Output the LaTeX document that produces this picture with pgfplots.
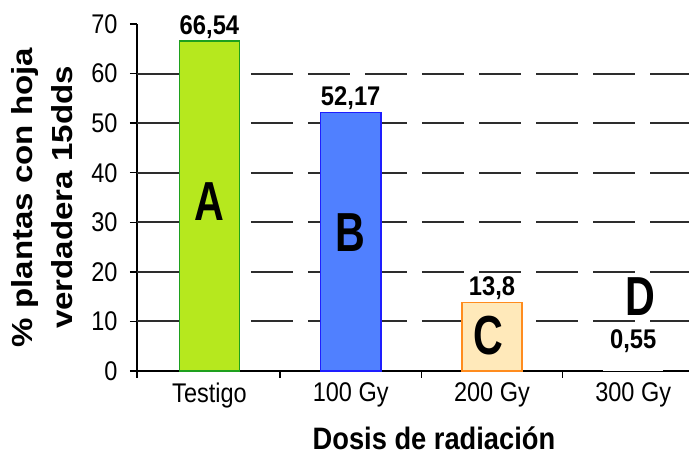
\documentclass[border=0pt]{standalone}
\usepackage{fontspec}
\setmainfont{Liberation Sans}
\newfontfamily\tickfont[FakeStretch=0.87]{Liberation Sans}
\newfontfamily\labfont[FakeStretch=0.88]{Liberation Sans}
\newfontfamily\ylabfont[FakeStretch=1.14]{Liberation Sans}
\newfontfamily\letfont[FakeStretch=0.75]{Liberation Sans}
\usepackage{pgfplots}
\pgfplotsset{compat=1.18}

\definecolor{limefill}{RGB}{182,232,30}
\definecolor{limeedge}{RGB}{30,160,30}
\definecolor{bluefill}{RGB}{80,128,255}
\definecolor{blueedge}{RGB}{30,30,255}
\definecolor{peachfill}{RGB}{255,233,186}
\definecolor{peachedge}{RGB}{255,140,30}
\definecolor{gridgray}{RGB}{45,45,45}

\begin{document}
\begin{tikzpicture}
\begin{axis}[
  name=ax,
  scale only axis,
  width=552pt, height=347pt,
  xmin=-0.513, xmax=3.395,
  ymin=0, ymax=70,
  clip=false,
  axis lines*=left,
  axis line style={line width=1.4pt, black},
  tick style={line width=1.4pt, black},
  tick align=outside,
  major tick length=7pt,
  ytick={0,10,...,70},
  xtick={-0.513,0.5,1.5,2.5},
  xticklabels={},
  extra x ticks={0,1,2,3},
  extra x tick labels={Testigo,100 Gy,200 Gy,300 Gy},
  extra x tick style={major tick length=0pt},
  extra y ticks={10,20,...,60},
  extra y tick labels={},
  extra y tick style={grid=major, major tick length=0pt},
  major grid style={dash pattern=on 42pt off 15pt, line width=2pt, gridgray},
  /pgf/number format/assume math mode=true,
  yticklabel style={font=\tickfont\fontsize{27}{27}\selectfont, xshift=-9pt},
  xticklabel style={font=\tickfont\fontsize{27}{27}\selectfont, yshift=-8pt},
  xlabel={Dosis de radiación},
  xlabel style={font=\labfont\bfseries\fontsize{31}{31}\selectfont,
    at={(rel axis cs:0.538,0)}, anchor=base, yshift=-79pt},
  ylabel={\% plantas con hoja\\verdadera 15dds},
  ylabel style={font=\ylabfont\bfseries\fontsize{29}{40}\selectfont,
    align=center, at={(rel axis cs:-0.172,0.5)}, anchor=center},
  bar width=0.427,
  point meta=explicit symbolic,
  nodes near coords,
  every node near coord/.append style={font=\labfont\bfseries\fontsize{27}{27}\selectfont, inner sep=2pt},
]
\addplot[ybar, bar shift=0pt, fill=limefill, draw=limeedge, line width=1.5pt]
  coordinates {(0,66.54) [66,54]};
\addplot[ybar, bar shift=0pt, fill=bluefill, draw=blueedge, line width=1.5pt]
  coordinates {(1,52.17) [52,17]};
\addplot[ybar, bar shift=0pt, fill=peachfill, draw=peachedge, line width=1.5pt]
  coordinates {(2,13.8) [13,8]};
\addplot[ybar, bar shift=0pt, fill=white, draw=none,
  every node near coord/.append style={yshift=13pt}]
  coordinates {(3,0.55) [0,55]};

% group letters
\node[font=\letfont\bfseries\fontsize{55}{55}\selectfont] at (axis cs:0,34.1) {A};
\node[font=\letfont\bfseries\fontsize{55}{55}\selectfont] at (axis cs:1,28.0) {B};
\node[font=\letfont\bfseries\fontsize{55}{55}\selectfont] at (axis cs:1.976,7.2) {C};
\node[font=\letfont\bfseries\fontsize{55}{55}\selectfont] at (axis cs:3.05,15.0) {D};
\end{axis}
\pgfresetboundingbox
\path[use as bounding box] ([xshift=-137pt,yshift=-85pt]ax.south west) rectangle ([yshift=24pt]ax.north east);
\end{tikzpicture}
\end{document}
